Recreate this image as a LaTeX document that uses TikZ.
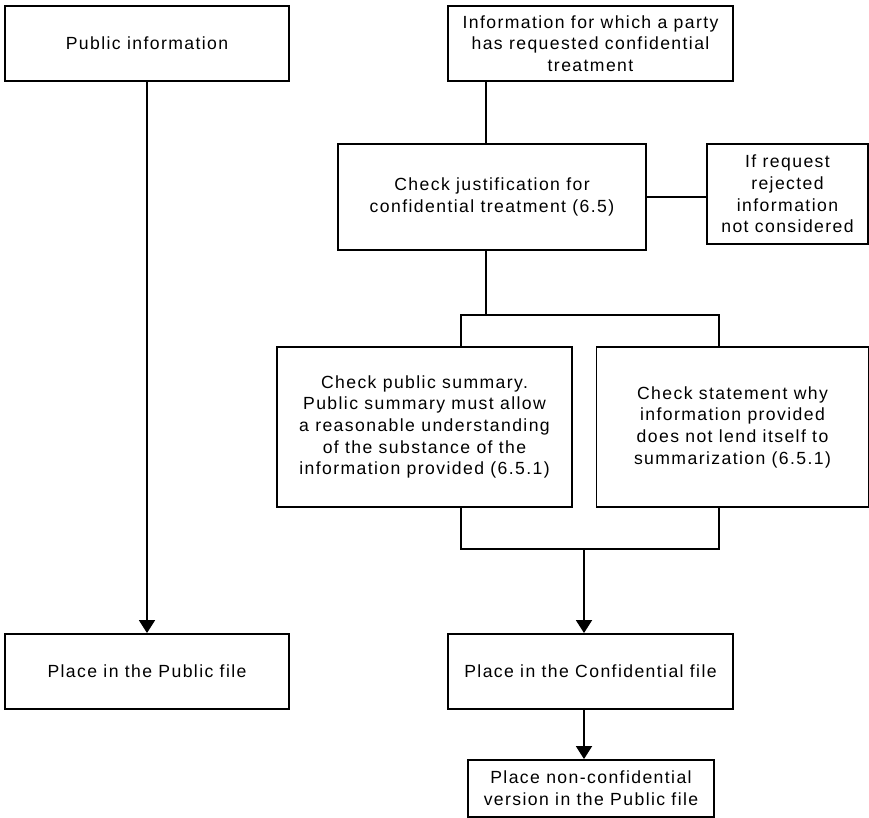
\documentclass[tikz,border=0pt]{standalone}
\usepackage{fontspec}
\setmainfont{Liberation Sans}[LetterSpace=8]
\usetikzlibrary{arrows.meta}

\tikzset{
  box/.style={draw, line width=1.9pt, align=center, inner sep=0pt,
    font=\fontsize{17.6}{21.7}\selectfont},
  arrow/.style={line width=1.9pt, -{Triangle[length=13pt,width=16pt]}}
}

\begin{document}
\begin{tikzpicture}[x=1pt, y=-1pt, line width=1.9pt]
    \useasboundingbox (0,0) rectangle (869,818);

    % left column
    \node [box, minimum width=284pt, minimum height=75pt] (pubinfo) at (147,43.5) {Public information};
    \node [box, minimum width=284pt, minimum height=75pt] (pubfile) at (147,671.5) {Place in the Public file};

    % right column
    \node [box, minimum width=285pt, minimum height=75pt] (request) at (590.5,43.5)
      {Information for which a party\\has requested confidential\\treatment};
    \node [box, minimum width=308pt, minimum height=106pt] (justify) at (492,197)
      {Check justification for\\confidential treatment (6.5)};
    \node [box, minimum width=161pt, minimum height=100pt] (reject) at (787.5,194)
      {If request\\rejected\\information\\not considered};
    \node [box, minimum width=295pt, minimum height=160pt] (summary) at (424.5,427)
      {Check public summary.\\Public summary must allow\\a reasonable understanding\\of the substance of the\\information provided (6.5.1)};
    \node [box, minimum width=272pt, minimum height=160pt] (statement) at (732.5,427)
      {Check statement why\\information provided\\does not lend itself to\\summarization (6.5.1)};
    \node [box, minimum width=285pt, minimum height=75pt] (conffile) at (590.5,671.5)
      {Place in the Confidential file};
    \node [box, minimum width=246pt, minimum height=57pt] (nonconf) at (591,788.5)
      {Place non-confidential\\version in the Public file};

    % branch points
    \coordinate (fork) at (486,315);
    \coordinate (forkl) at (461,315);
    \coordinate (forkr) at (719,315);
    \coordinate (join) at (584,549);
    \coordinate (joinl) at (461,549);
    \coordinate (joinr) at (719,549);

    \draw [arrow] (pubinfo) -- (pubfile);

    \draw (request.south -| fork) -- (justify.north -| fork);
    \draw (justify.east) -- (justify.east -| reject.west);
    \draw (justify.south -| fork) -- (fork);
    \draw (summary.north -| forkl) -- (forkl) -- (forkr) -- (statement.north -| forkr);
    \draw (summary.south -| joinl) -- (joinl) -- (joinr) -- (statement.south -| joinr);
    \draw [arrow] (join) -- (conffile.north -| join);
    \draw [arrow] (conffile.south -| join) -- (nonconf.north -| join);
\end{tikzpicture}
\end{document}
